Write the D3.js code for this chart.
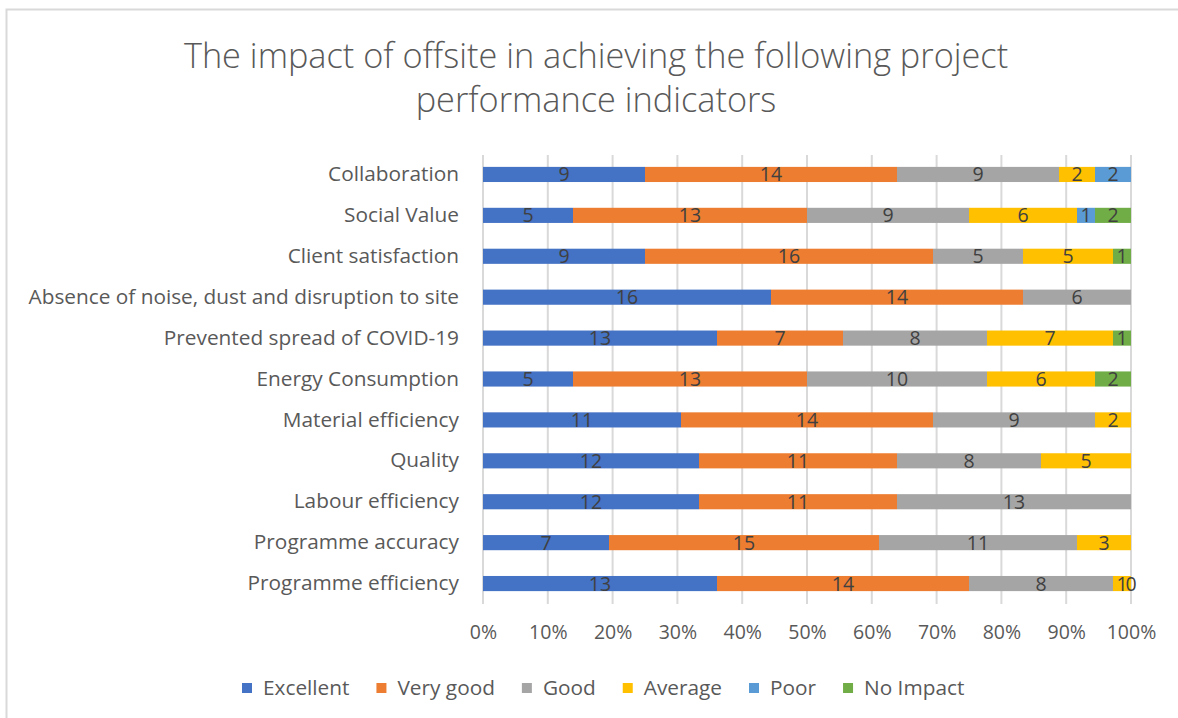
<!DOCTYPE html>
<html><head><meta charset="utf-8">
<script src="https://cdn.jsdelivr.net/npm/d3@7"></script>
<style>body{margin:0;background:#fff;} text{font-family:"Open Sans",sans-serif;}</style>
</head><body>
<svg id="c" width="1178" height="718"></svg>
<script>
const categories = ["Collaboration","Social Value","Client satisfaction","Absence of noise, dust and disruption to site","Prevented spread of COVID-19","Energy Consumption","Material efficiency","Quality","Labour efficiency","Programme accuracy","Programme efficiency"];
const seriesNames = ["Excellent","Very good","Good","Average","Poor","No Impact"];
const colors = ["#4472C4","#ED7D31","#A5A5A5","#FFC000","#5B9BD5","#70AD47"];
const excellent = [9,5,9,16,13,5,11,12,12,7,13];
const veryGood  = [14,13,16,14,7,13,14,11,11,15,14];
const good      = [9,9,5,6,8,10,9,8,13,11,8];
const average   = [2,6,5,null,7,6,2,5,null,3,1];
const poor      = [2,1,null,null,null,null,null,null,null,null,0];
const noImpact  = [null,2,1,null,1,2,null,null,null,null,null];
const xTicks = [0,0.1,0.2,0.3,0.4,0.5,0.6,0.7,0.8,0.9,1];
const titleLines = ["The impact of offsite in achieving the following project","performance indicators"];

const series = [excellent,veryGood,good,average,poor,noImpact];
const svg = d3.select("#c");
svg.append("rect").attr("x",6.5).attr("y",9.5).attr("width",1300).attr("height",800)
  .attr("fill","none").attr("stroke","#d9d9d9").attr("stroke-width",2);

const x = d3.scaleLinear().domain([0,1]).range([483,1131]);
const y = d3.scaleBand().domain(categories).range([154,604]).paddingInner(0.63).paddingOuter(0.315);

svg.append("g").selectAll("line").data(xTicks).join("line")
  .attr("x1",d=>x(d)).attr("x2",d=>x(d)).attr("y1",155).attr("y2",604)
  .attr("stroke","#d9d9d9").attr("stroke-width",2);

const tg = svg.append("g");
tg.selectAll("text").data(titleLines).join("text")
  .attr("x",596).attr("y",(d,i)=>68+i*44).attr("text-anchor","middle")
  .attr("fill","#595959").attr("font-size",34.3).attr("font-weight",300).text(d=>d);

const rows = categories.map((c,i)=>{
  const total = d3.sum(series,s=>s[i]||0);
  let acc = 0;
  return series.map((s,k)=>{
    const v = s[i];
    const x0 = acc/total; acc += (v||0); const x1 = acc/total;
    return {cat:c,k,v,x0,x1};
  });
}).flat();

const g = svg.append("g");
g.selectAll("rect").data(rows.filter(d=>d.v)).join("rect")
  .attr("x",d=>x(d.x0)).attr("width",d=>x(d.x1)-x(d.x0))
  .attr("y",d=>y(d.cat)).attr("height",y.bandwidth())
  .attr("fill",d=>colors[d.k]);

g.selectAll("text").data(rows.filter(d=>d.v!==null)).join("text")
  .attr("x",d=>x((d.x0+d.x1)/2)).attr("y",d=>y(d.cat)+y.bandwidth()/2)
  .attr("dy","0.36em").attr("text-anchor","middle").attr("font-size",19.5)
  .attr("fill","#404040").text(d=>d.v);

const yAxis = d3.axisLeft(y).tickSize(0).tickPadding(24);
const ya = svg.append("g").attr("transform","translate(483,0)").call(yAxis);
ya.select(".domain").remove();
ya.selectAll("text").attr("font-size",20.8).attr("fill","#595959").attr("font-family","Open Sans");

const xAxis = d3.axisBottom(x).tickValues(xTicks).tickFormat(d3.format(".0%")).tickSize(0).tickPadding(21);
const xa = svg.append("g").attr("transform","translate(0,604)").call(xAxis);
xa.select(".domain").remove();
xa.selectAll("text").attr("font-size",19.5).attr("fill","#595959").attr("font-family","Open Sans");

const lg = svg.append("g").attr("transform","translate(0,688)");
let lx = 242;
seriesNames.forEach((n,k)=>{
  lg.append("rect").attr("x",lx).attr("y",-5).attr("width",10).attr("height",10).attr("fill",colors[k]);
  const t = lg.append("text").attr("x",lx+21).attr("y",0).attr("dy","0.35em")
    .attr("font-size",20.8).attr("fill","#595959").text(n);
  lx += 21 + t.node().getComputedTextLength() + 27;
});
</script>
</body></html>
